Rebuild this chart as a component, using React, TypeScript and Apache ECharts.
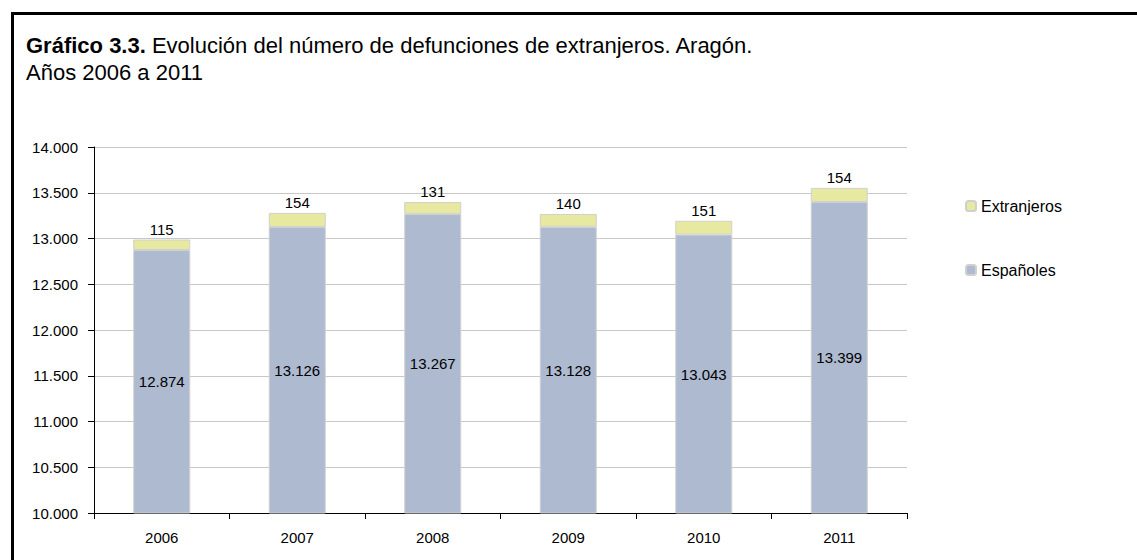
import React, { useEffect, useRef } from "react";
import * as echarts from "echarts";

const years = ["2006", "2007", "2008", "2009", "2010", "2011"];
const espanoles = [12874, 13126, 13267, 13128, 13043, 13399];
const extranjeros = [115, 154, 131, 140, 151, 154];
const yMin = 10000;
const yMax = 14000;
const yStep = 500;

const fmt = (n: number) => String(n).replace(/\B(?=(\d{3})+(?!\d))/g, ".");
const FONT = "'Liberation Sans', Arial, sans-serif";

export default function App() {
  const ref = useRef<HTMLDivElement>(null);
  useEffect(() => {
    document.body.style.margin = "0";
    const chart = echarts.init(ref.current!, null, { renderer: "svg" });
    chart.setOption({
      animation: false,
      textStyle: { fontFamily: FONT, color: "#000" },
      graphic: [
        { type: "line", shape: { x1: 11, y1: 13.5, x2: 1137, y2: 13.5 }, style: { stroke: "#000", lineWidth: 3 } },
        { type: "line", shape: { x1: 12.5, y1: 12, x2: 12.5, y2: 560 }, style: { stroke: "#000", lineWidth: 3 } },
        {
          type: "text",
          left: 26,
          top: 34,
          style: {
            text: "{b|Gráfico 3.3.} Evolución del número de defunciones de extranjeros. Aragón.",
            rich: { b: { fontWeight: "bold", fontSize: 22, fontFamily: FONT, fill: "#000" } },
            fontSize: 22,
            fontFamily: FONT,
            fill: "#000",
          },
        },
        {
          type: "text",
          left: 26,
          top: 61,
          style: { text: "Años 2006 a 2011", fontSize: 22, fontFamily: FONT, fill: "#000" },
        },
      ],
      legend: {
        orient: "vertical",
        left: 960,
        top: 193,
        itemGap: 48,
        itemWidth: 10,
        itemHeight: 10,
        data: ["Extranjeros", "Españoles"],
        textStyle: { fontSize: 16, fontFamily: FONT, color: "#000" },
      },
      grid: { left: 94, right: 230, top: 147, bottom: 47, containLabel: false },
      xAxis: {
        type: "category",
        data: years,
        axisLine: { lineStyle: { color: "#000" } },
        axisTick: { show: true, length: 6, lineStyle: { color: "#000" } },
        axisLabel: { fontSize: 15, color: "#000", margin: 17, fontFamily: FONT },
      },
      yAxis: {
        type: "value",
        min: yMin,
        max: yMax,
        interval: yStep,
        axisLine: { show: true, lineStyle: { color: "#000" } },
        axisTick: { show: true, length: 6, lineStyle: { color: "#000" } },
        axisLabel: { fontSize: 15, color: "#000", margin: 16, fontFamily: FONT, formatter: (v: number) => fmt(v) },
        splitLine: { lineStyle: { color: "#c8c8c8" } },
      },
      series: [
        {
          name: "Españoles",
          type: "bar",
          stack: "t",
          data: espanoles,
          barWidth: 57,
          itemStyle: { color: "#aebad0", borderColor: "#d0d0d0", borderWidth: 1 },
          label: { show: true, position: "inside", color: "#000", fontSize: 15, fontFamily: FONT, formatter: (p: any) => fmt(p.value) },
        },
        {
          name: "Extranjeros",
          type: "bar",
          stack: "t",
          data: extranjeros,
          barWidth: 57,
          itemStyle: { color: "#e6e99f", borderColor: "#d0d0d0", borderWidth: 1 },
          label: { show: true, position: "top", distance: 3, color: "#000", fontSize: 15, fontFamily: FONT, formatter: (p: any) => fmt(p.value) },
        },
      ],
    });
    return () => chart.dispose();
  }, []);
  return <div ref={ref} style={{ width: 1137, height: 560 }} />;
}
